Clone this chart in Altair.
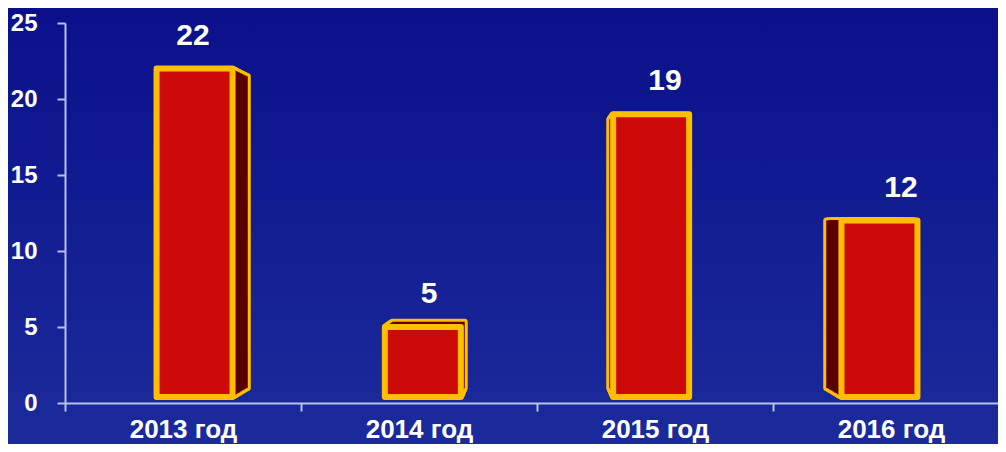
import altair as alt
import pandas as pd

# ---- data ----
categories = ["2013 год", "2014 год", "2015 год", "2016 год"]
values = [22, 5, 19, 12]
y_ticks = [0, 5, 10, 15, 20, 25]

df = pd.DataFrame({"cat": categories, "value": values})

# ---- layout / style ----
W, H = 944, 380
STEP = W / len(categories)
FRONT_W = 76          # px width of the front face
SHRINK = 0.05         # perspective shrink of the back face
YMAX = 25
YPX = H / YMAX        # px per unit
VP_VALUE = 12         # eye height (value units) for the perspective
EXTRUDE_STEPS = 10

YELLOW = "#ffbf00"
RED = "#cc0a0a"
DARK = "#5a0000"
AXIS = "#b8c0ee"
FONT = "Liberation Sans"

base = alt.Chart(df).transform_window(idx="row_number()")

x_enc = alt.X(
    "cat:N", sort=categories,
    scale=alt.Scale(paddingInner=0, paddingOuter=0),
    axis=alt.Axis(
        title=None, labelAngle=0, tickBand="extent", tickSize=8, tickWidth=2,
        tickColor=AXIS, domainColor=AXIS, domainWidth=2,
        labelFont=FONT, labelFontSize=26, labelFontWeight="bold",
        labelColor="white", labelPadding=5, zindex=1,
    ),
)
y_enc = alt.Y(
    "value:Q",
    scale=alt.Scale(domain=[0, YMAX], nice=False),
    axis=alt.Axis(
        title=None, values=y_ticks, grid=False, tickSize=8, tickWidth=2,
        tickColor=AXIS, domainColor=AXIS, domainWidth=2,
        labelFont=FONT, labelFontSize=24, labelFontWeight="bold",
        labelColor="white", labelPadding=20, zindex=1,
    ),
)

FDX = "((2.5 - datum.idx) * 7.7)"
XF = f"({STEP} * (datum.idx - 0.5) + {FDX})"


def bar_layer(t, fill, stroke=None, sw=0):
    props = dict(
        width=FRONT_W * (1 - SHRINK * t),
        xOffset=alt.expr(f"{FDX} + ({W / 2} - {XF}) * {SHRINK * t}"),
        yOffset=alt.expr(f"(datum.value - {VP_VALUE}) * {YPX * SHRINK * t}"),
        y2Offset=-6 - VP_VALUE * YPX * SHRINK * t,
        fill=fill,
        strokeJoin="round",
    )
    if stroke:
        props.update(stroke=stroke, strokeWidth=sw)
    else:
        props.update(strokeWidth=0)
    return base.mark_bar(**props).encode(x=x_enc, y=y_enc, y2=alt.datum(0))


ts = [i / EXTRUDE_STEPS for i in range(1, EXTRUDE_STEPS + 1)]

background = alt.Chart(pd.DataFrame({"bg": [0]})).mark_rect(
    color=alt.LinearGradient(
        gradient="linear", x1=0, x2=0, y1=0, y2=1,
        stops=[alt.GradientStop(color="#0a108a", offset=0),
               alt.GradientStop(color="#1c2c9c", offset=1)],
    )
).encode(x=alt.value(-70), x2=alt.value(W + 20),
         y=alt.value(-20), y2=alt.value(H + 60))

outline = [bar_layer(t, YELLOW, YELLOW, 6) for t in ts]
sides = [bar_layer(t, DARK) for t in ts]
front = bar_layer(0, RED, YELLOW, 6)

labels = base.mark_text(
    dx=10, dy=-24, baseline="alphabetic", fontSize=30, fontWeight="bold",
    font=FONT, color="white",
).encode(x=x_enc, y=y_enc, text="value:Q")

chart = alt.layer(background, *outline, *sides, front, labels).properties(
    width=W, height=H,
    autosize=alt.AutoSizeParams(type="none"),
    padding={"left": 57, "top": 15, "right": -11, "bottom": 41},
).configure(background="#0f1a90").configure_view(stroke=None)

chart.save("out.html", embed_options={"renderer": "svg", "actions": False})
